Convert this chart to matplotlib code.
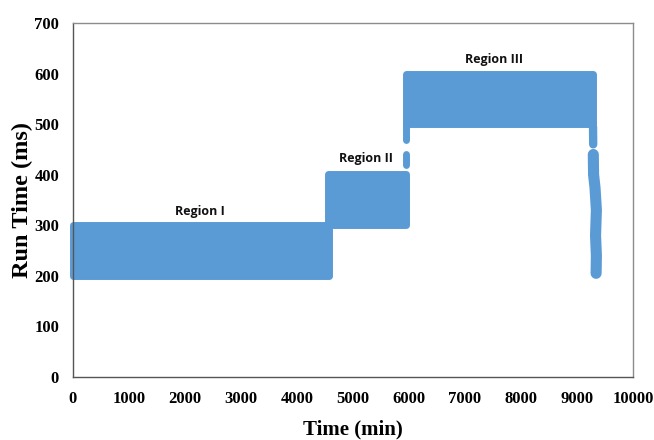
import matplotlib
matplotlib.use("Agg")
import matplotlib.pyplot as plt

# operating regions: start/end time (min) and run time band (ms)
region_names = ["Region I", "Region II", "Region III"]
region_start = [0, 4550, 5950]
region_end = [4570, 5950, 9285]
region_low = [200, 300, 500]
region_high = [300, 402, 600]

# label anchor for each region
label_time = [2270, 5230, 7520]
label_ms = [328, 433, 628]

# stray samples between/after the regions
jump_time = [5950, 5950]
jump_ms = [500, 468]
blip_time = [5950, 5950]
blip_ms = [440, 420]
tail_a_time = [9285, 9288]
tail_a_ms = [495, 460]
tail_b_time = [9290, 9295, 9320, 9345, 9330, 9345, 9340]
tail_b_ms = [440, 400, 375, 330, 280, 240, 205]

blue = "#5B9BD5"

fig = plt.figure(figsize=(6.54, 4.40), dpi=100)
ax = fig.add_axes([0.1116, 0.1432, 0.8564, 0.8045])

for t0, t1, lo, hi in zip(region_start, region_end, region_low, region_high):
    ax.fill_between([t0, t1], [lo, lo], [hi, hi], color=blue, edgecolor=blue,
                    linewidth=5, joinstyle="round", clip_on=False, zorder=2)

for tx, ty, lw in [(jump_time, jump_ms, 5), (blip_time, blip_ms, 5),
                   (tail_a_time, tail_a_ms, 6), (tail_b_time, tail_b_ms, 8)]:
    ax.plot(tx, ty, color=blue, linewidth=lw, solid_capstyle="round",
            solid_joinstyle="round", zorder=2)

for name, tx, ty in zip(region_names, label_time, label_ms):
    ax.text(tx, ty, name, ha="center", va="center", fontsize=9,
            fontweight="bold", family="Open Sans", color="#111111")

ax.set_xlim(0, 10000)
ax.set_ylim(0, 700)
ax.set_xticks(range(0, 10001, 1000))
ax.set_yticks(range(0, 701, 100))

tick_font = dict(family="Liberation Serif", fontweight="bold", size=12)
ax.set_xticklabels([str(v) for v in range(0, 10001, 1000)], **tick_font)
ax.set_yticklabels([str(v) for v in range(0, 701, 100)], **tick_font)
ax.tick_params(length=0, pad=10)

ax.set_xlabel("Time (min)", family="Liberation Serif", fontweight="bold",
              fontsize=15, labelpad=9)
ax.set_ylabel("Run Time (ms)", family="Liberation Serif", fontweight="bold",
              fontsize=17.5, labelpad=1)

for side in ["top", "right"]:
    ax.spines[side].set_color("#8c8c8c")
for side in ["left", "bottom"]:
    ax.spines[side].set_color("#555555")
for sp in ax.spines.values():
    sp.set_linewidth(1)

fig.savefig("out.png", dpi=100)
